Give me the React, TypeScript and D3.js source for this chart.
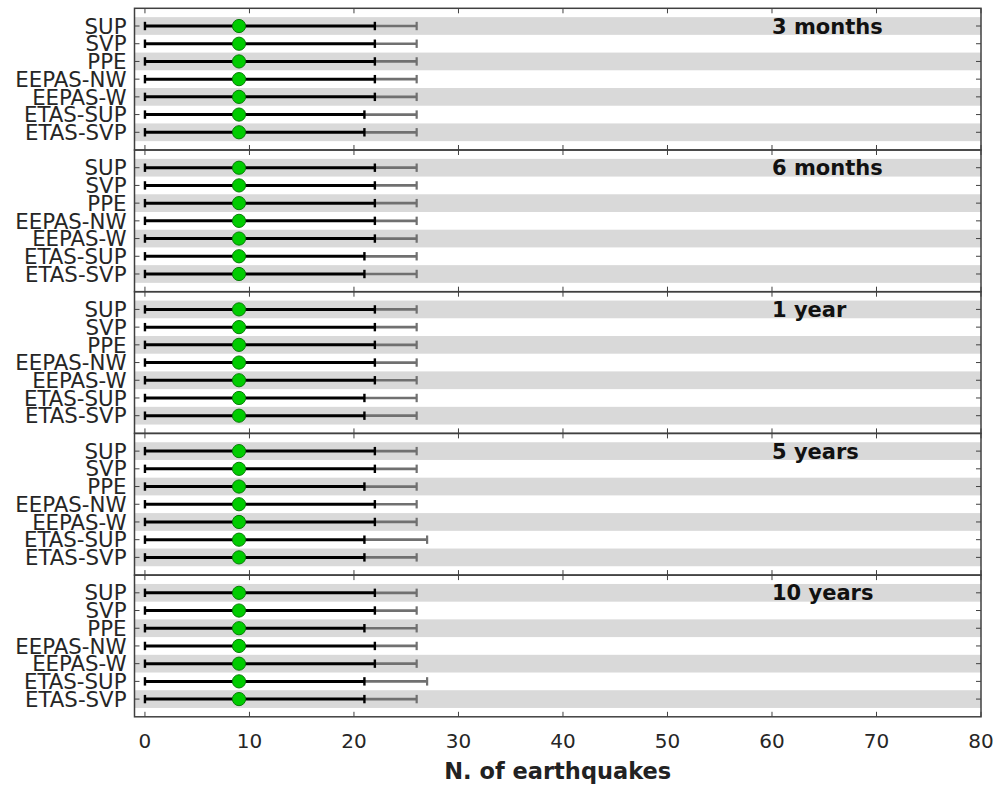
import React from 'react';
import * as d3 from 'd3';

// forecast models, top to bottom in each panel
const models = ['SUP', 'SVP', 'PPE', 'EEPAS-NW', 'EEPAS-W', 'ETAS-SUP', 'ETAS-SVP'];
const periods = ['3 months', '6 months', '1 year', '5 years', '10 years'];

// median number of earthquakes (green dots)
const medians = [
  [9, 9, 9, 9, 9, 9, 9],
  [9, 9, 9, 9, 9, 9, 9],
  [9, 9, 9, 9, 9, 9, 9],
  [9, 9, 9, 9, 9, 9, 9],
  [9, 9, 9, 9, 9, 9, 9],
];
// lower bound of both intervals
const lowers = [
  [0, 0, 0, 0, 0, 0, 0],
  [0, 0, 0, 0, 0, 0, 0],
  [0, 0, 0, 0, 0, 0, 0],
  [0, 0, 0, 0, 0, 0, 0],
  [0, 0, 0, 0, 0, 0, 0],
];
// upper bound of inner (black) interval
const upperInner = [
  [22, 22, 22, 22, 22, 21, 21],
  [22, 22, 22, 22, 22, 21, 21],
  [22, 22, 22, 22, 22, 21, 21],
  [22, 22, 21, 22, 22, 21, 21],
  [22, 22, 21, 22, 22, 21, 21],
];
// upper bound of outer (gray) interval
const upperOuter = [
  [26, 26, 26, 26, 26, 26, 26],
  [26, 26, 26, 26, 26, 26, 26],
  [26, 26, 26, 26, 26, 26, 26],
  [26, 26, 26, 26, 26, 27, 26],
  [26, 26, 26, 26, 26, 27, 26],
];
const xTicks = [0, 10, 20, 30, 40, 50, 60, 70, 80];

const W = 997;
const H = 786;
const left = 134.5;
const right = 981;
const top0 = 8.3;
const panelH = 141.7;

const axisColor = '#404040';
const textColor = '#262626';
const font = '"DejaVu Sans", Verdana, sans-serif';

const App = () => {
  const x = d3.scaleLinear().domain([-1, 80]).range([left, right]);
  const capH = 4.2;

  return (
    <div style={{ position: 'absolute', left: 0, top: 0 }}>
      <svg width={W} height={H} style={{ display: 'block', background: '#fff' }}>
        {periods.map((period, p) => {
          const top = top0 + p * panelH;
          const y = d3.scaleLinear().domain([0, 8]).range([top, top + panelH]);
          return (
            <g key={period}>
              {/* stripes */}
              {models.map((m, i) =>
                i % 2 === 0 ? (
                  <rect
                    key={'s' + m}
                    x={left}
                    width={right - left}
                    y={y(i + 0.5)}
                    height={y(i + 1.5) - y(i + 0.5)}
                    fill="#d9d9d9"
                  />
                ) : null
              )}
              {/* y ticks and labels */}
              {models.map((m, i) => (
                <g key={'t' + m}>
                  <line x1={left} x2={left + 5} y1={y(i + 1)} y2={y(i + 1)} stroke={axisColor} strokeWidth={1} />
                  <line x1={right} x2={right - 5} y1={y(i + 1)} y2={y(i + 1)} stroke={axisColor} strokeWidth={1} />
                  <text
                    x={left - 8}
                    y={y(i + 1)}
                    dy="0.36em"
                    textAnchor="end"
                    fontFamily={font}
                    fontSize={21.3}
                    fill={textColor}
                  >
                    {m}
                  </text>
                </g>
              ))}
              {/* x ticks top and bottom of each panel */}
              {xTicks.map((t) => (
                <g key={'x' + t}>
                  <line x1={x(t)} x2={x(t)} y1={top} y2={top + 5} stroke={axisColor} strokeWidth={1} />
                  <line x1={x(t)} x2={x(t)} y1={top + panelH} y2={top + panelH - 5} stroke={axisColor} strokeWidth={1} />
                </g>
              ))}
              {/* intervals */}
              {models.map((m, i) => {
                const cy = y(i + 1);
                const lo = x(lowers[p][i]);
                const hi = x(upperInner[p][i]);
                const hi2 = x(upperOuter[p][i]);
                return (
                  <g key={'e' + m}>
                    <line x1={hi} x2={hi2} y1={cy} y2={cy} stroke="#707070" strokeWidth={2.7} />
                    <line x1={hi2} x2={hi2} y1={cy - capH} y2={cy + capH} stroke="#707070" strokeWidth={2.2} />
                    <line x1={lo} x2={hi} y1={cy} y2={cy} stroke="#000" strokeWidth={3} />
                    <line x1={lo} x2={lo} y1={cy - capH} y2={cy + capH} stroke="#000" strokeWidth={2.4} />
                    <line x1={hi} x2={hi} y1={cy - capH} y2={cy + capH} stroke="#000" strokeWidth={2.4} />
                    <circle cx={x(medians[p][i])} cy={cy} r={6.6} fill="#00cc00" stroke="#0a7a0a" strokeWidth={1} />
                  </g>
                );
              })}
              <text
                x={x(60)}
                y={y(1) + 7.5}
                fontFamily={font}
                fontSize={21}
                fontWeight="bold"
                fill="#111"
              >
                {period}
              </text>
              <rect
                x={left}
                y={top}
                width={right - left}
                height={panelH}
                fill="none"
                stroke={axisColor}
                strokeWidth={1.5}
              />
            </g>
          );
        })}
        {xTicks.map((t) => (
          <text
            key={'xl' + t}
            x={x(t)}
            y={748}
            textAnchor="middle"
            fontFamily={font}
            fontSize={20}
            fill={textColor}
          >
            {t}
          </text>
        ))}
        <text
          x={(left + right) / 2}
          y={779}
          textAnchor="middle"
          fontFamily={font}
          fontSize={22.5}
          fontWeight="bold"
          fill="#222"
        >
          N. of earthquakes
        </text>
      </svg>
    </div>
  );
};

export default App;
